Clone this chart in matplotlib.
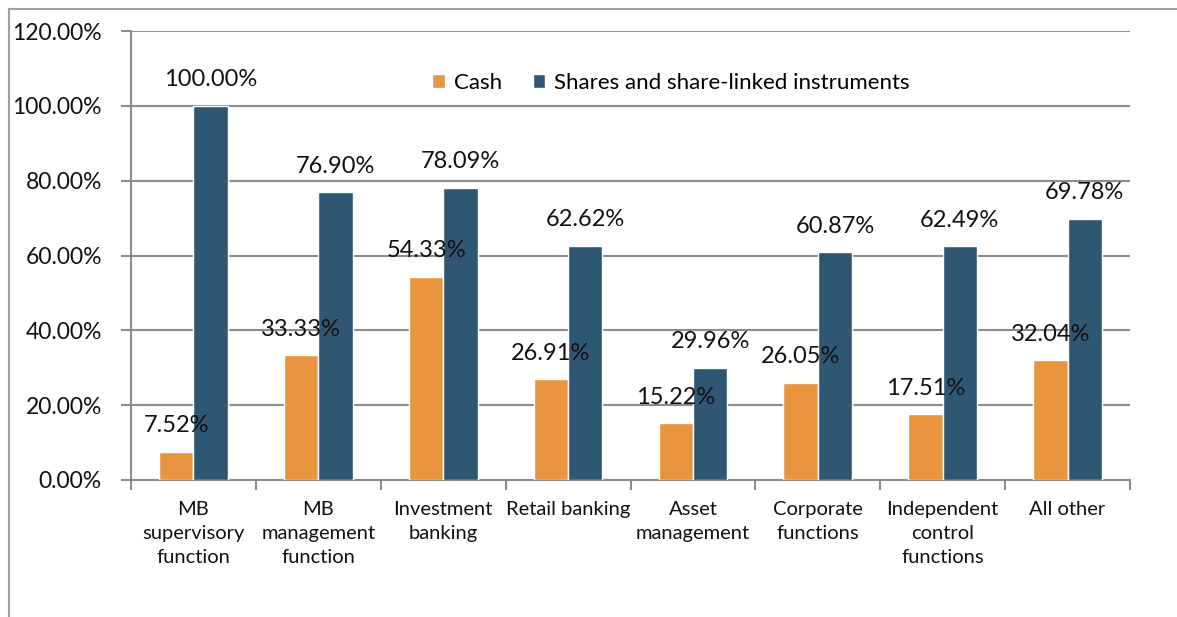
import matplotlib
matplotlib.use("Agg")
import matplotlib.pyplot as plt
import numpy as np
from matplotlib.lines import Line2D

categories = ["MB\nsupervisory\nfunction", "MB\nmanagement\nfunction", "Investment\nbanking",
              "Retail banking", "Asset\nmanagement", "Corporate\nfunctions",
              "Independent\ncontrol\nfunctions", "All other"]
cash = [7.52, 33.33, 54.33, 26.91, 15.22, 26.05, 17.51, 32.04]
shares = [100.00, 76.90, 78.09, 62.62, 29.96, 60.87, 62.49, 69.78]
series_names = ["Cash", "Shares and share-linked instruments"]
yticks = [0, 20, 40, 60, 80, 100, 120]

plt.rcParams['font.family'] = ['Lato', 'DejaVu Sans']

W, H = 1177, 617
fig = plt.figure(figsize=(W / 100, H / 100), dpi=100)
ax = fig.add_axes([131 / W, 1 - 480 / H, (1130 - 131) / W, (480 - 31) / H])

c_cash = "#E9943E"
c_sh = "#2F5673"
grid_c = "#8C8C8C"

x = np.arange(len(categories))
bw = 0.275
b1 = ax.bar(x - bw / 2, cash, bw, color=c_cash, edgecolor="white", linewidth=1.0, zorder=3,
            label=series_names[0])
b2 = ax.bar(x + bw / 2, shares, bw, color=c_sh, edgecolor="white", linewidth=1.0, zorder=3,
            label=series_names[1])

for bars, vals in ((b1, cash), (b2, shares)):
    for r, v in zip(bars, vals):
        ax.annotate(f"{v:.2f}%", (r.get_x() + r.get_width() / 2, v), xytext=(0, 26),
                    textcoords="offset pixels", ha="center", va="center",
                    fontsize=17, color="#111111", zorder=5)

ax.set_xlim(-0.5, len(categories) - 0.5)
ax.set_ylim(0, 120)
ax.set_yticks(yticks)
ax.set_yticklabels([f"{v:.2f}%" for v in yticks], fontsize=16.5, color="#111111")
ax.yaxis.grid(True, color=grid_c, linewidth=1.5, zorder=0)
ax.set_axisbelow(True)

ax.set_xticks(x)
ax.set_xticklabels(categories, fontsize=14.5, color="#111111", linespacing=1.52)
ax.set_xticks(np.arange(len(categories) + 1) - 0.5, minor=True)
ax.tick_params(axis="x", which="major", length=0, pad=15)
ax.tick_params(axis="x", which="minor", length=7, width=1.5, color=grid_c)
ax.tick_params(axis="y", length=7, width=1.5, color=grid_c, pad=14)

for s in ("top", "right"):
    ax.spines[s].set_visible(False)
for s in ("left", "bottom"):
    ax.spines[s].set_color(grid_c)
    ax.spines[s].set_linewidth(1.5)

leg = ax.legend(loc="center", bbox_to_anchor=(671 / W, 1 - 83 / H), bbox_transform=fig.transFigure,
                ncol=2, frameon=False, fontsize=16, handlelength=0.55, handleheight=0.55,
                handletextpad=0.4, columnspacing=1.4)

# outer chart border (left and top)
fig.add_artist(Line2D([9 / W, 9 / W], [0, 1 - 9 / H], transform=fig.transFigure,
                      color="#A0A0A0", linewidth=1.5))
fig.add_artist(Line2D([9 / W, 1], [1 - 9 / H, 1 - 9 / H], transform=fig.transFigure,
                      color="#A0A0A0", linewidth=1.5))

fig.savefig("out.png", dpi=100, facecolor="white")
